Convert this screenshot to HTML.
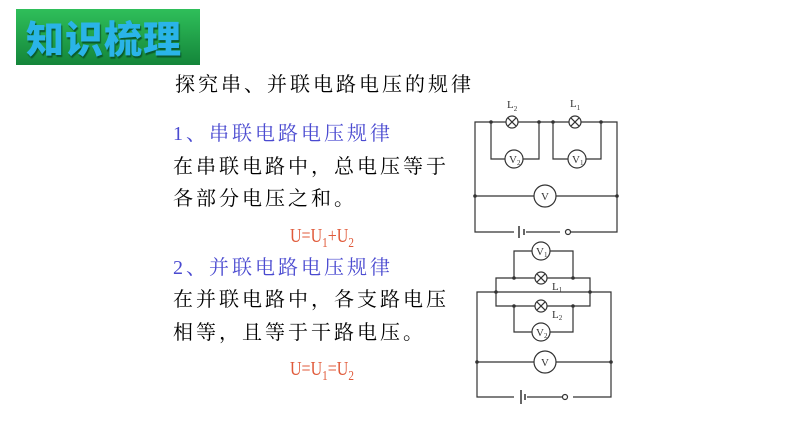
<!DOCTYPE html>
<html><head><meta charset="utf-8"><style>
body{margin:0;width:800px;height:442px;background:#fff;position:relative;overflow:hidden;font-family:"Liberation Serif","Noto Serif CJK SC",serif}
.t{position:absolute;white-space:nowrap;font-size:20px;letter-spacing:3px;line-height:24px}
.b{color:#4a4ad0}
.r{color:#e05a3a;font-family:"Liberation Serif",serif;font-size:20px;letter-spacing:0;transform:scaleX(0.8);transform-origin:left}
.r sub{font-size:14px;vertical-align:-5px}
#ttl{position:absolute;left:16px;top:9px;width:184px;height:56px;background:linear-gradient(#2fbf5a,#14853a);}
#ttl span{position:absolute;left:10px;top:6px;font-family:"Noto Sans CJK SC",sans-serif;font-weight:900;font-size:38px;line-height:44px;color:#2ab4e8;letter-spacing:1px;text-shadow:1px 2px 1px #0a5a2a}
</style></head><body>
<div id="ttl"><span>知识梳理</span></div>
<div class="t" style="left:175px;top:73px">探究串、并联电路电压的规律</div>
<div class="t b" style="left:173px;top:122px">1、串联电路电压规律</div>
<div class="t" style="left:173px;top:155px">在串联电路中，总电压等于</div>
<div class="t" style="left:173px;top:187px">各部分电压之和。</div>
<div class="t r" style="left:290px;top:224px">U=U<sub>1</sub>+U<sub>2</sub></div>
<div class="t b" style="left:173px;top:256px">2、并联电路电压规律</div>
<div class="t" style="left:173px;top:288px">在并联电路中，各支路电压</div>
<div class="t" style="left:173px;top:321px">相等，且等于干路电压。</div>
<div class="t r" style="left:290px;top:357px">U=U<sub>1</sub>=U<sub>2</sub></div>
<svg width="800" height="442" style="position:absolute;left:0;top:0" font-family="Liberation Serif" fill="none" stroke="#333" stroke-width="1.2">
<defs><g id="lamp"><circle r="6" fill="#fff"/><path d="M-4.2 -4.2L4.2 4.2M-4.2 4.2L4.2 -4.2"/></g></defs>
<!-- circuit 1 -->
<path d="M475 122H617V232H475Z"/>
<path d="M491 122V159H539V122M553 122V159H601V122M475 196H617"/>
<use href="#lamp" x="512" y="122"/><use href="#lamp" x="575" y="122"/>
<circle cx="514" cy="159" r="9" fill="#fff"/><circle cx="577" cy="159" r="9" fill="#fff"/>
<circle cx="545" cy="196" r="11" fill="#fff"/>
<path d="M518 226V238M522 229V235" stroke="#fff" stroke-width="8"/>
<path d="M519 226V238M524 229V235" stroke-width="1.5"/>
<path d="M560 232H570" stroke="#fff" stroke-width="4"/>
<circle cx="568" cy="232" r="2.5" fill="#fff"/>
<g fill="#333" stroke="none"><circle cx="491" cy="122" r="1.8"/><circle cx="539" cy="122" r="1.8"/><circle cx="553" cy="122" r="1.8"/><circle cx="601" cy="122" r="1.8"/><circle cx="475" cy="196" r="1.8"/><circle cx="617" cy="196" r="1.8"/></g>
<g fill="#333" stroke="none" font-size="11"><text x="507" y="108">L<tspan font-size="7" dy="3">2</tspan></text><text x="570" y="107">L<tspan font-size="7" dy="3">1</tspan></text>
<text x="509" y="163">V<tspan font-size="7" dy="2">2</tspan></text><text x="572" y="163">V<tspan font-size="7" dy="2">1</tspan></text><text x="541" y="200">V</text></g>
<!-- circuit 2 -->
<path d="M477 292H611V397H477Z"/>
<path d="M496 278H590V306H496Z M514 278V251H573V278 M514 306V332H573V306 M477 362H611"/>
<use href="#lamp" x="541" y="278"/><use href="#lamp" x="541" y="306"/>
<circle cx="541" cy="251" r="9" fill="#fff"/><circle cx="541" cy="332" r="9" fill="#fff"/>
<circle cx="545" cy="362" r="11" fill="#fff"/>
<path d="M518 391V403M523 394V400" stroke="#fff" stroke-width="8"/>
<path d="M521 390V404M525 394V400" stroke-width="1.5"/>
<path d="M566 397H573" stroke="#fff" stroke-width="4"/>
<circle cx="565" cy="397" r="2.5" fill="#fff"/>
<g fill="#333" stroke="none"><circle cx="514" cy="278" r="1.8"/><circle cx="573" cy="278" r="1.8"/><circle cx="514" cy="306" r="1.8"/><circle cx="573" cy="306" r="1.8"/><circle cx="496" cy="292" r="1.8"/><circle cx="590" cy="292" r="1.8"/><circle cx="477" cy="362" r="1.8"/><circle cx="611" cy="362" r="1.8"/></g>
<g fill="#333" stroke="none" font-size="11"><text x="536" y="255">V<tspan font-size="7" dy="2">1</tspan></text><text x="536" y="336">V<tspan font-size="7" dy="2">2</tspan></text><text x="541" y="366">V</text>
<text x="552" y="290">L<tspan font-size="7" dy="2">1</tspan></text><text x="552" y="318">L<tspan font-size="7" dy="2">2</tspan></text></g>
</svg>
</body></html>
